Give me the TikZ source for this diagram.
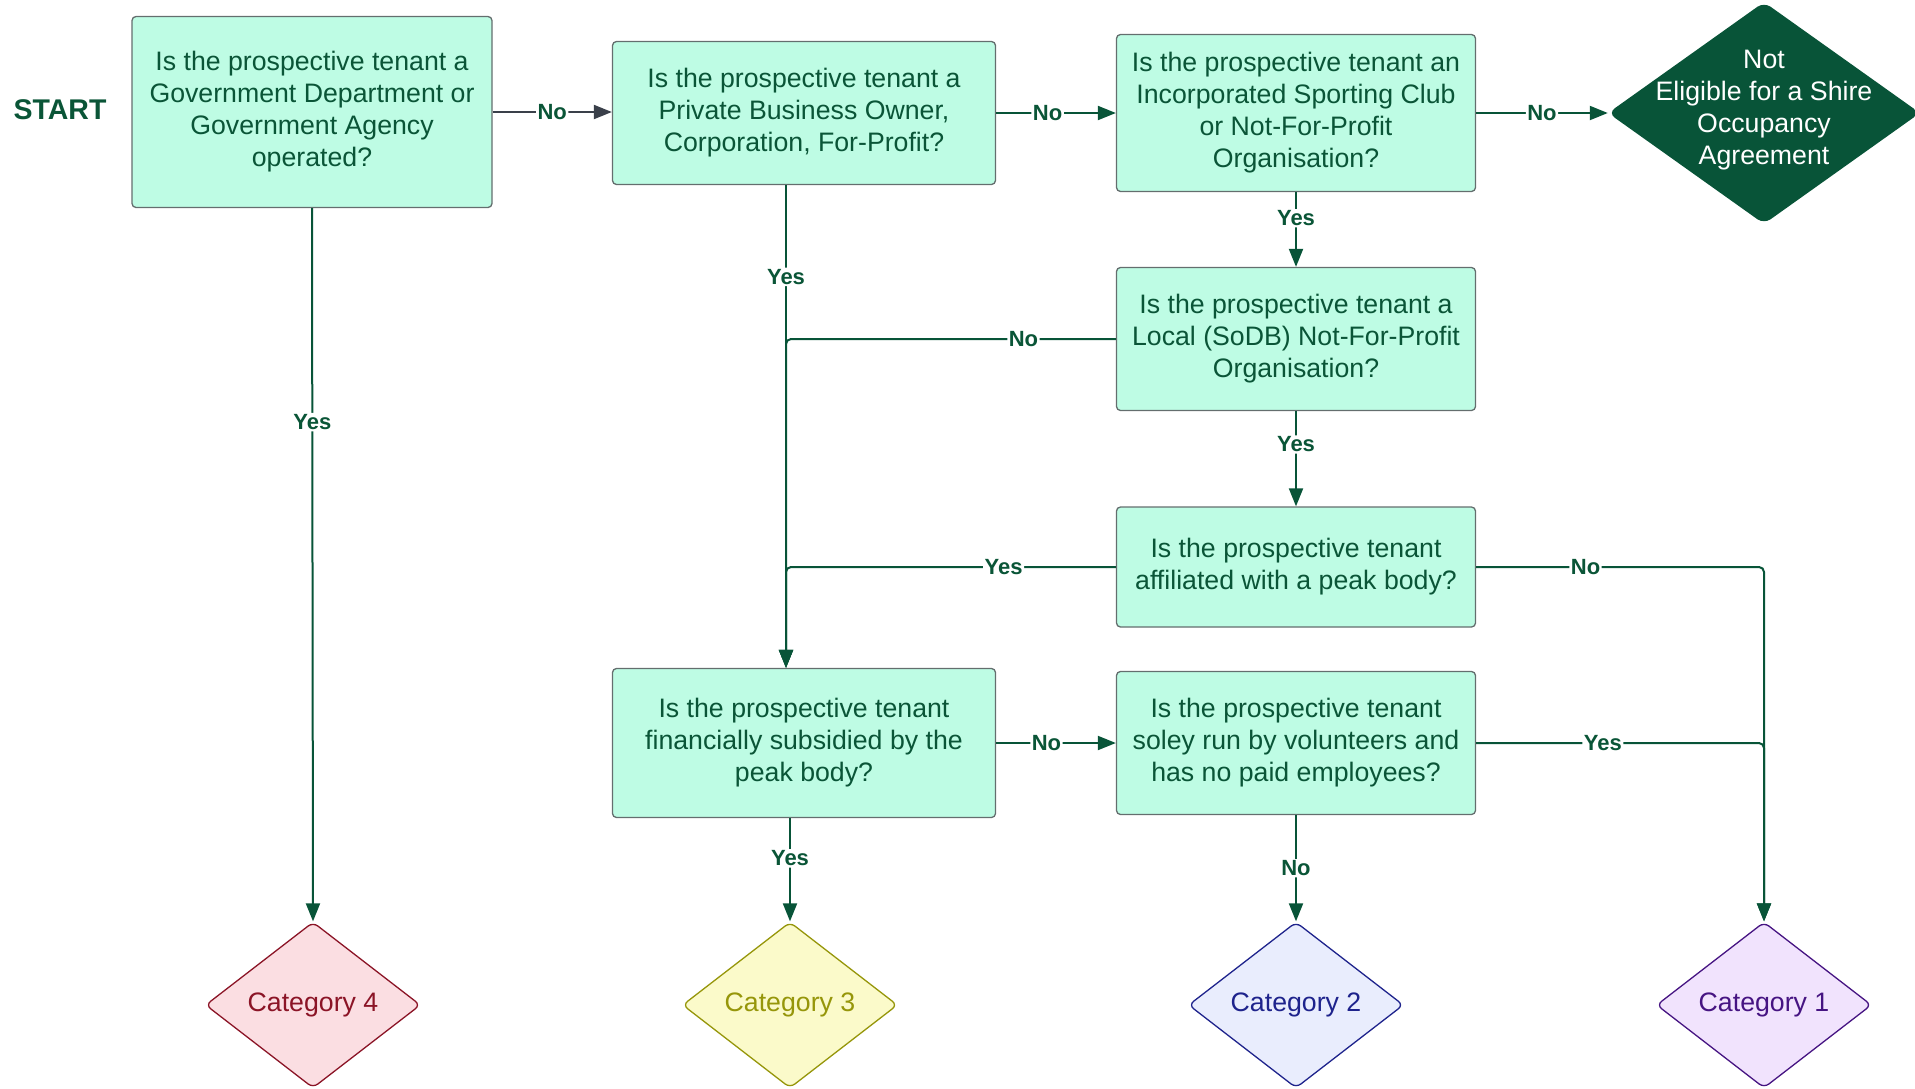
\documentclass[tikz,border=0pt]{standalone}
\usepackage{fontspec}
\setmainfont{Liberation Sans}
\usetikzlibrary{shapes.geometric,arrows.meta}
\definecolor{boxfill}{RGB}{190,252,228}
\definecolor{boxline}{RGB}{100,110,110}
\definecolor{txtgreen}{RGB}{10,85,55}
\definecolor{linegreen}{RGB}{8,84,56}
\definecolor{arrowgray}{RGB}{58,64,74}
\definecolor{redfill}{RGB}{251,222,226}
\definecolor{redline}{RGB}{139,20,38}
\definecolor{yelfill}{RGB}{251,250,202}
\definecolor{yelline}{RGB}{150,150,10}
\definecolor{bluefill}{RGB}{233,237,253}
\definecolor{blueline}{RGB}{30,35,140}
\definecolor{purfill}{RGB}{241,227,253}
\definecolor{purline}{RGB}{70,20,130}
\newcommand{\qfont}{\fontsize{26.7pt}{32pt}\selectfont}
\tikzset{
  qbox/.style={draw=boxline,fill=boxfill,rounded corners=4pt,line width=1.3pt,text=txtgreen,align=center,font=\qfont,inner sep=0pt},
  cat/.style={diamond,rounded corners=6pt,line width=1.3pt,font=\qfont,inner sep=0pt,minimum width=215pt,minimum height=166pt},
  gline/.style={draw=linegreen,line width=2pt,rounded corners=5pt,-{Triangle[length=18pt,width=14pt]}},
  lbl/.style={fill=white,inner sep=1.5pt,text=txtgreen,font=\fontsize{22pt}{26pt}\bfseries}
}
\begin{document}
\begin{tikzpicture}[x=1pt,y=-1pt]
  \useasboundingbox (0,0) rectangle (1915,1088);
  \node[text=txtgreen,font=\fontsize{28.5pt}{34pt}\bfseries] (start) at (60,110) {START};
  \node[qbox,minimum width=360pt,minimum height=191pt] (b1) at (312,112) {Is the prospective tenant a\\Government Department or\\Government Agency\\operated?};
  \node[qbox,minimum width=383pt,minimum height=143pt] (b2) at (804,113) {Is the prospective tenant a\\Private Business Owner,\\Corporation, For-Profit?};
  \node[qbox,minimum width=359pt,minimum height=157pt] (b3) at (1296,113) {Is the prospective tenant an\\Incorporated Sporting Club\\or Not-For-Profit\\Organisation?};
  \node[diamond,rounded corners=8pt,fill=linegreen,minimum width=312pt,minimum height=222pt,inner sep=0pt] (ne) at (1764,113) {};
  \node[text=white,align=center,font=\qfont] (netext) at (1764,110) {Not\\Eligible for a Shire\\Occupancy\\Agreement};
  \node[qbox,minimum width=359pt,minimum height=143pt] (b4) at (1296,339) {Is the prospective tenant a\\Local (SoDB) Not-For-Profit\\Organisation?};
  \node[qbox,minimum width=359pt,minimum height=120pt] (b5) at (1296,567) {Is the prospective tenant\\affiliated with a peak body?};
  \node[qbox,minimum width=383pt,minimum height=149pt] (b6) at (804,743) {Is the prospective tenant\\financially subsidied by the\\peak body?};
  \node[qbox,minimum width=359pt,minimum height=143pt] (b7) at (1296,743) {Is the prospective tenant\\soley run by volunteers and\\has no paid employees?};
  \node[cat,draw=redline,fill=redfill,text=redline] (c4) at (313,1005) {Category 4};
  \node[cat,draw=yelline,fill=yelfill,text=yelline] (c3) at (790,1005) {Category 3};
  \node[cat,draw=blueline,fill=bluefill,text=blueline] (c2) at (1296,1005) {Category 2};
  \node[cat,draw=purline,fill=purfill,text=purline] (c1) at (1764,1005) {Category 1};
  \coordinate (in6) at ([xshift=-18pt]b6.north);

  \draw[gline,draw=arrowgray] (b1.east) -- node[lbl]{No} (b1.east -| b2.west);
  \draw[gline] (b2.east) -- node[lbl,pos=0.43]{No} (b2.east -| b3.west);
  \draw[gline] (b3.east) -- node[lbl]{No} (b3.east -| ne.west);
  \draw[gline] (b3.south) -- node[lbl,pos=0.35]{Yes} (b4.north);
  \draw[gline] (b4.south) -- node[lbl,pos=0.35]{Yes} (b5.north);
  \draw[gline] (b2.south -| in6) -- node[lbl,pos=0.19]{Yes} (in6);
  \draw[gline] (b4.west) -| node[lbl,pos=0.14]{No} (in6);
  \draw[gline] (b5.west) -| node[lbl,pos=0.17]{Yes} (in6);
  \draw[gline] (b5.east) -| node[lbl,pos=0.19]{No} (c1.north);
  \draw[gline] (b7.east) -| node[lbl,pos=0.22]{Yes} (c1.north);
  \draw[gline] (b6.east) -- node[lbl,pos=0.42]{No} (b6.east -| b7.west);
  \draw[gline] (c3.north |- b6.south) -- node[lbl,pos=0.39]{Yes} (c3.north);
  \draw[gline] (b7.south) -- node[lbl]{No} (c2.north);
  \draw[gline] (b1.south) -- node[lbl,pos=0.3]{Yes} (c4.north);
\end{tikzpicture}
\end{document}
